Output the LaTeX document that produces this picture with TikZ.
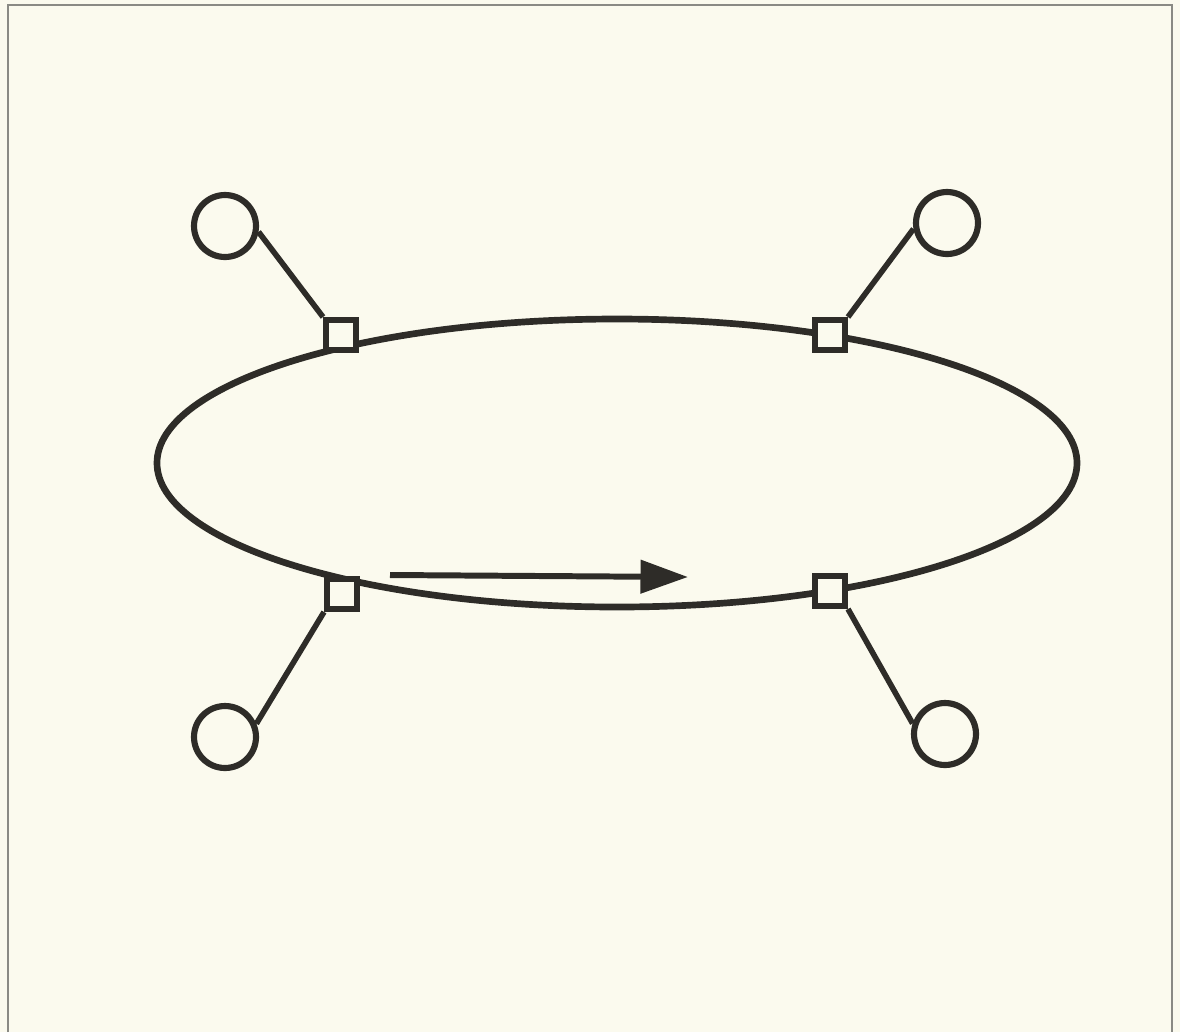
\documentclass[tikz,border=0pt]{standalone}
\usetikzlibrary{arrows.meta}
\definecolor{paper}{HTML}{FBFAEE}
\definecolor{ink}{HTML}{2E2C28}
\definecolor{rule}{HTML}{8A8A84}
\begin{document}
\begin{tikzpicture}[x=0.02cm,y=-0.02cm,
  ring/.style={draw=ink,line width=3.8pt},
  port/.style={draw=ink,fill=paper,line width=3.4pt,minimum size=0.6cm,inner sep=0pt},
  station/.style={circle,draw=ink,line width=3.5pt,minimum size=1.24cm,inner sep=0pt},
  link/.style={draw=ink,line width=3.2pt}]
\fill[paper] (0,0) rectangle (1180,1032);
\useasboundingbox (0,0) rectangle (1180,1032);
\draw[rule,line width=0.6pt] (8,1032)--(8,5)--(1172,5)--(1172,1032);
\draw[ring] (617,463) ellipse [x radius=460,y radius=144];
\node[port] (p1) at (341,335) {};
\node[port] (p2) at (830,335) {};
\node[port] (p3) at (342,594) {};
\node[port] (p4) at (830,591) {};
\node[station] (s1) at (225,226) {};
\node[station] (s2) at (947,223) {};
\node[station] (s3) at (225,737) {};
\node[station] (s4) at (945,734) {};
\draw[link] (p1.north west)--(s1.-10);
\draw[link] (p2.north east)--(s2.190);
\draw[link] (p3.south west)--(s3.23);
\draw[link] (p4.south east)--(s4.162);
\coordinate (flowstart) at (390,575);
\coordinate (flowend) at (688,577);
\draw[ink,line width=3.4pt,-{Triangle[length=0.95cm,width=0.65cm]}] (flowstart)--(flowend);
\end{tikzpicture}
\end{document}
